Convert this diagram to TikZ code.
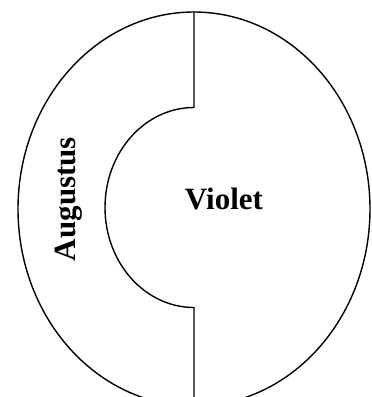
\documentclass[tikz,border=0pt]{standalone}
\usepackage{fontspec}
\setmainfont{Liberation Serif}
\begin{document}
\begin{tikzpicture}[x=1pt,y=-1pt,
  shape line/.style={line width=1.4pt, black},
  label text/.style={font=\fontsize{31}{36}\selectfont\bfseries, inner sep=0pt}]
\useasboundingbox (0,0) rectangle (372,397);
\clip (0,0) rectangle (372,397);
\draw[shape line] (194,209) ellipse [x radius=176, y radius=197];
\draw[shape line] (194,12) -- (194,107.5)
  arc[start angle=270, end angle=90, x radius=89, y radius=100]
  -- (194,410);
\node[label text] (violet) at (224,199) {Violet};
\node[label text, rotate=90] (augustus) at (69,199) {Augustus};
\end{tikzpicture}
\end{document}
